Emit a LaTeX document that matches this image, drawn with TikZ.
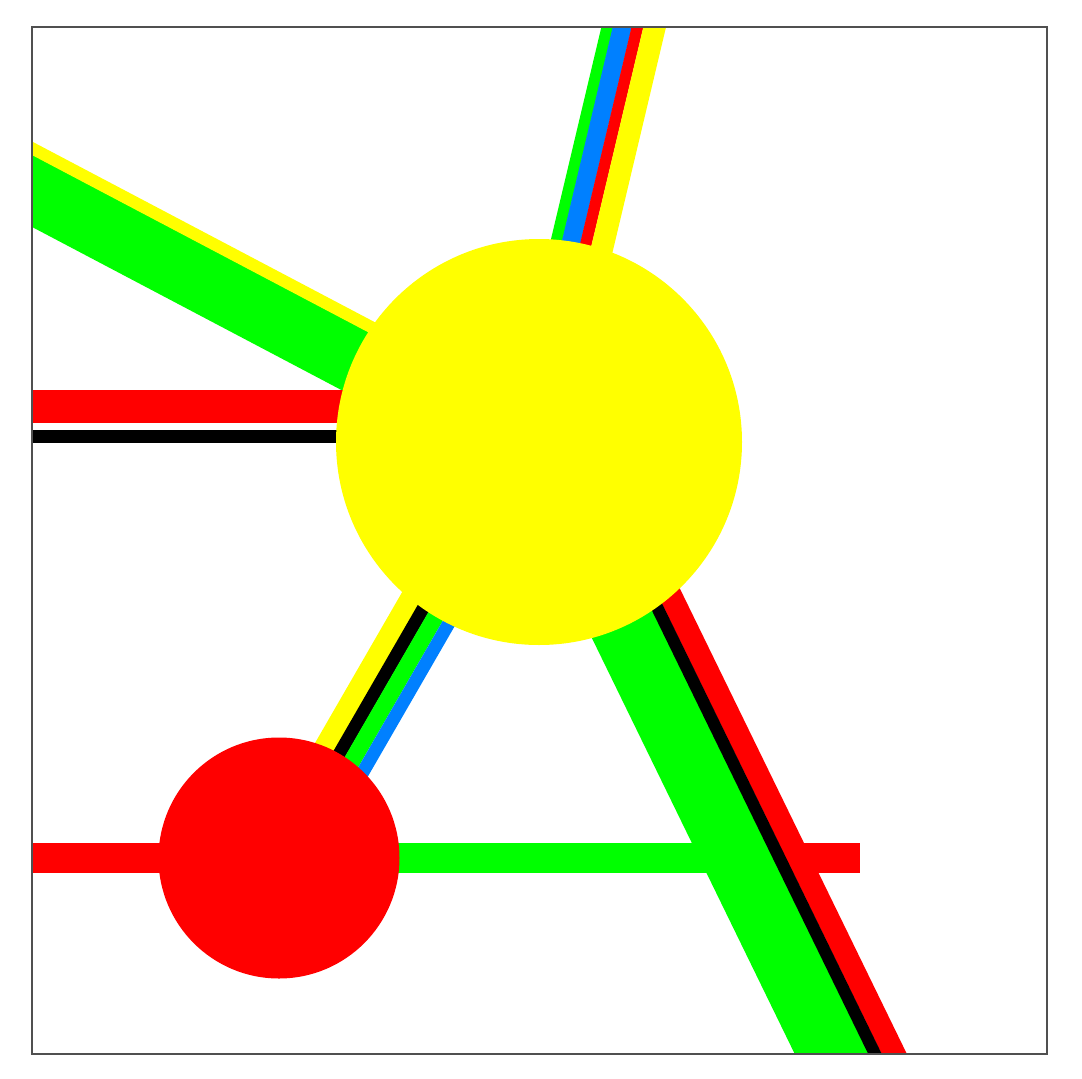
\documentclass[tikz,border=0pt]{standalone}
\definecolor{mblue}{RGB}{0,128,255}
\definecolor{myellow}{RGB}{255,255,0}
\definecolor{mgreen}{RGB}{0,255,0}
\definecolor{mred}{RGB}{255,0,0}
\definecolor{mblack}{RGB}{0,0,0}
\definecolor{framegray}{RGB}{80,80,80}
\tikzset{
  stripe/.style={line width=#1, line cap=butt},
  hubnode/.style={circle, inner sep=0pt, draw=none},
  frameline/.style={draw=framegray, line width=1.2pt}
}
\begin{document}
\begin{tikzpicture}[x=1pt,y=-1pt]
\useasboundingbox (0,0) rectangle (1082,1079);
\begin{scope}
\clip (32,27) rectangle (1047,1054);
% upper left band
\draw[stripe=64pt, mgreen] (0,173.9) -- (539,458.0);
\draw[stripe=12pt, myellow] (0,131.4) -- (539,415.5);
% left horizontal band
\draw[stripe=33.3pt, mred] (0,406.7) -- (539,406.7);
\draw[stripe=13.3pt, mblack] (0,436.7) -- (539,436.7);
% top band
\draw[stripe=11.5pt, mgreen] (613.7,0) -- (508.7,442);
\draw[stripe=18.6pt, mblue] (628.7,0) -- (523.7,442);
\draw[stripe=11.6pt, mred] (643.9,0) -- (538.9,442);
\draw[stripe=22.1pt, myellow] (661.1,0) -- (556.1,442);
% lower horizontal line
\draw[stripe=29.4pt, mred] (0,858) -- (279,858);
\draw[stripe=29.4pt, mgreen] (279,858) -- (780,858);
\draw[stripe=29.4pt, mred] (780,858) -- (860,858);
% lower right band
\draw[stripe=66.4pt, mgreen] (533.2,442) -- (844.4,1080);
\draw[stripe=22.8pt, mred] (595.7,442) -- (906.9,1080);
\draw[stripe=12.2pt, mblack] (576.5,442) -- (887.7,1080);
% band between the circles
\draw[stripe=20.4pt, myellow] (510.3,425.2) -- (265.3,849.5);
\draw[stripe=13pt, mblack] (524.4,433.3) -- (279.4,857.6);
\draw[stripe=16.8pt, mgreen] (537.1,440.6) -- (292.1,864.9);
\draw[stripe=13pt, mblue] (550.0,448.1) -- (305.0,872.4);
% circles
\node[hubnode, fill=myellow, minimum size=406pt] (hub) at (539,442) {};
\node[hubnode, fill=mred, minimum size=241pt] (small) at (279,858) {};
\end{scope}
\draw[frameline] (32,27) rectangle (1047,1054);
\end{tikzpicture}
\end{document}
